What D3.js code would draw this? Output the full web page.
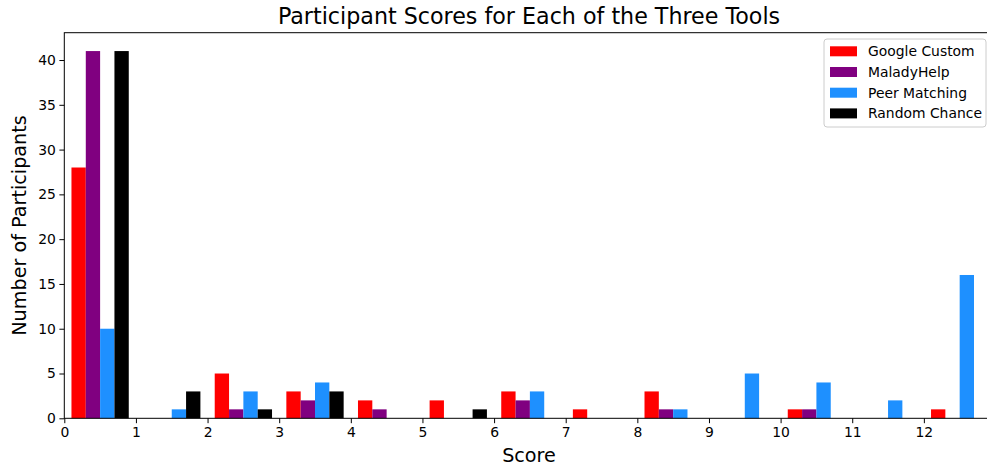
<!DOCTYPE html>
<meta charset="utf-8">
<style>
    body { margin: 0; background: #fff; }
    text { font-family: "DejaVu Sans", sans-serif; fill: #000; }
    .tick text { font-size: 13.9px; }
</style>
<svg width="987" height="467"></svg>
<script src="https://d3js.org/d3.v7.min.js"></script>
<script>

    // score bins (left edges, width 1)
    var bins = [0, 1, 2, 3, 4, 5, 6, 7, 8, 9, 10, 11, 12];

    var seriesNames = ["Google Custom", "MaladyHelp", "Peer Matching", "Random Chance"];
    var seriesColors = ["#ff0000", "#800080", "#1e90ff", "#000000"];

    var googleCustom  = [28, 0, 5, 3, 2, 2, 3, 1, 3, 0, 1, 0, 1];
    var maladyHelp    = [41, 0, 1, 2, 1, 0, 2, 0, 1, 0, 1, 0, 0];
    var peerMatching  = [10, 1, 3, 4, 0, 0, 3, 0, 1, 5, 4, 2, 16];
    var randomChance  = [41, 3, 1, 3, 0, 1, 0, 0, 0, 0, 0, 0, 0];

    var xTicks = [0, 1, 2, 3, 4, 5, 6, 7, 8, 9, 10, 11, 12];
    var yTicks = [0, 5, 10, 15, 20, 25, 30, 35, 40];

    var series = [googleCustom, maladyHelp, peerMatching, randomChance];

    var svg = d3.select("svg");

    var plotLeft = 64.3, plotTop = 32.7, plotBottom = 418.3;

    var x = d3.scaleLinear()
        .domain([0, 13])
        .range([plotLeft, plotLeft + 13 * 71.63]);

    var y = d3.scaleLinear()
        .domain([0, 43.05])
        .range([plotBottom, plotTop]);

    // bars: 4 per bin, 0.8 of the bin shared
    var dw = 0.8 / series.length;
    series.forEach(function(vals, i) {
        svg.append("g")
            .selectAll("rect")
            .data(vals)
            .enter().append("rect")
            .attr("x", function(d, k) { return x(bins[k] + 0.1 + i * dw); })
            .attr("width", function(d, k) { return x(bins[k] + 0.1 + (i + 1) * dw) - x(bins[k] + 0.1 + i * dw); })
            .attr("y", function(d) { return y(d); })
            .attr("height", function(d) { return y(0) - y(d); })
            .attr("fill", seriesColors[i]);
    });

    // axes
    var xAxis = svg.append("g")
        .attr("transform", "translate(0," + plotBottom + ")")
        .call(d3.axisBottom(x).tickValues(xTicks).tickSize(4.9).tickPadding(3.5).tickFormat(d3.format("d")));
    xAxis.select(".domain").remove();

    var yAxis = svg.append("g")
        .attr("transform", "translate(" + plotLeft + ",0)")
        .call(d3.axisLeft(y).tickValues(yTicks).tickSize(4.9).tickPadding(3.5).tickFormat(d3.format("d")));
    yAxis.select(".domain").remove();

    svg.selectAll(".tick line").attr("stroke", "#000").attr("stroke-width", 1);

    // spines
    svg.append("rect")
        .attr("x", plotLeft)
        .attr("y", plotTop)
        .attr("width", x.range()[1] - plotLeft)
        .attr("height", plotBottom - plotTop)
        .attr("fill", "none")
        .attr("stroke", "#000")
        .attr("stroke-width", 1);

    // titles
    svg.append("text")
        .attr("x", 529)
        .attr("y", 24)
        .attr("text-anchor", "middle")
        .style("font-size", "22.2px")
        .text("Participant Scores for Each of the Three Tools");

    svg.append("text")
        .attr("x", 529)
        .attr("y", 462)
        .attr("text-anchor", "middle")
        .style("font-size", "19.2px")
        .text("Score");

    svg.append("text")
        .attr("transform", "translate(26," + ((plotTop + plotBottom) / 2) + ") rotate(-90)")
        .attr("text-anchor", "middle")
        .style("font-size", "19.2px")
        .text("Number of Participants");

    // legend
    var lg = svg.append("g").attr("transform", "translate(824,39)");
    lg.append("rect")
        .attr("width", 162)
        .attr("height", 88)
        .attr("rx", 3)
        .attr("fill", "#fff")
        .attr("fill-opacity", 0.8)
        .attr("stroke", "#cccccc");
    var items = lg.selectAll("g.item")
        .data(seriesNames)
        .enter().append("g")
        .attr("transform", function(d, i) { return "translate(0," + (12.3 + i * 20.7) + ")"; });
    items.append("rect")
        .attr("x", 6)
        .attr("y", -5)
        .attr("width", 27)
        .attr("height", 10)
        .attr("fill", function(d, i) { return seriesColors[i]; });
    items.append("text")
        .attr("x", 44)
        .attr("y", 5)
        .style("font-size", "13.9px")
        .text(function(d) { return d; });

</script>
